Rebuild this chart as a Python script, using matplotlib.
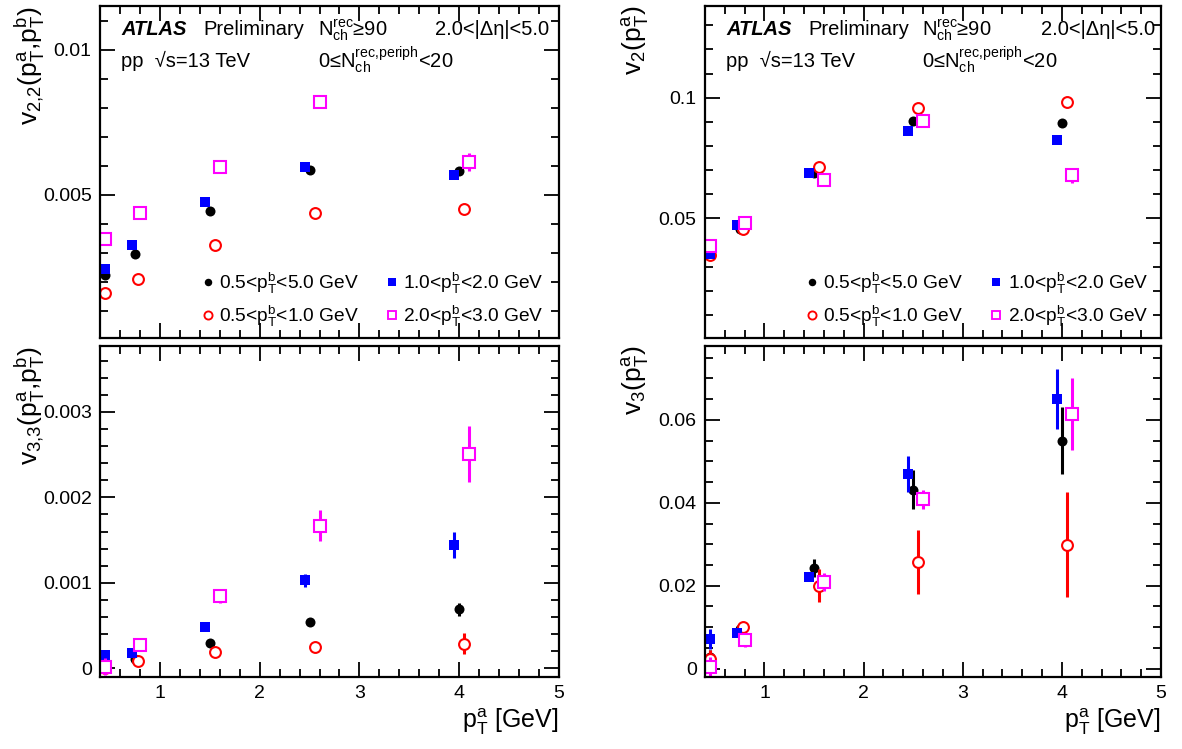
import matplotlib
matplotlib.use('Agg')
import matplotlib.pyplot as plt
from matplotlib.lines import Line2D
from matplotlib.ticker import MultipleLocator, FuncFormatter

plt.rcParams['font.family'] = 'Liberation Sans'
plt.rcParams['mathtext.fontset'] = 'custom'
plt.rcParams['mathtext.rm'] = 'Liberation Sans'
plt.rcParams['mathtext.it'] = 'Liberation Sans:italic'
plt.rcParams['mathtext.bf'] = 'Liberation Sans:bold'
plt.rcParams['mathtext.default'] = 'regular'

# pT^a positions of each pT^b selection (shifted slightly so the points don't overlap)
pta_black = [0.45, 0.75, 1.50, 2.50, 4.00]
pta_red = [0.45, 0.78, 1.55, 2.55, 4.05]
pta_blue = [0.45, 0.72, 1.45, 2.45, 3.95]
pta_magenta = [0.45, 0.80, 1.60, 2.60, 4.10]

# v2,2(pTa, pTb)
v22_black = [0.00225, 0.00297, 0.00445, 0.00585, 0.00581]
v22_black_err = [0.00003, 0.00003, 0.00004, 0.00005, 0.00008]
v22_red = [0.00162, 0.00211, 0.00327, 0.00437, 0.00451]
v22_red_err = [0.00003, 0.00003, 0.00004, 0.00006, 0.00010]
v22_blue = [0.00245, 0.00327, 0.00476, 0.00597, 0.00569]
v22_blue_err = [0.00003, 0.00003, 0.00004, 0.00006, 0.00010]
v22_magenta = [0.00350, 0.00437, 0.00597, 0.00819, 0.00614]
v22_magenta_err = [0.00004, 0.00005, 0.00006, 0.00010, 0.00030]

# v3,3(pTa, pTb)
v33_black = [0.00002, 0.00011, 0.00030, 0.00054, 0.00069]
v33_black_err = [0.00003, 0.00002, 0.00002, 0.00003, 0.00008]
v33_red = [0.00001, 0.00009, 0.00019, 0.00025, 0.00029]
v33_red_err = [0.00003, 0.00002, 0.00003, 0.00004, 0.00012]
v33_blue = [0.000156, 0.000183, 0.00049, 0.00103, 0.00144]
v33_blue_err = [0.00003, 0.00002, 0.00003, 0.00008, 0.00015]
v33_magenta = [0.00002, 0.00027, 0.00085, 0.00167, 0.00251]
v33_magenta_err = [0.00010, 0.00004, 0.00008, 0.00018, 0.00033]

# v2(pTa)
v2_black = [0.0354, 0.0457, 0.0687, 0.0904, 0.0897]
v2_black_err = [0.0003, 0.0003, 0.0004, 0.0007, 0.0010]
v2_red = [0.0350, 0.0455, 0.0715, 0.0956, 0.0982]
v2_red_err = [0.0004, 0.0004, 0.0006, 0.0010, 0.0020]
v2_blue = [0.0351, 0.0475, 0.0690, 0.0864, 0.0824]
v2_blue_err = [0.0003, 0.0003, 0.0004, 0.0007, 0.0012]
v2_magenta = [0.0388, 0.0482, 0.0661, 0.0904, 0.0679]
v2_magenta_err = [0.0005, 0.0005, 0.0006, 0.0010, 0.0030]

# v3(pTa)
v3_black = [0.0029, 0.0095, 0.0243, 0.0431, 0.0550]
v3_black_err = [0.0015, 0.0010, 0.0022, 0.0047, 0.0080]
v3_red = [0.0024, 0.0101, 0.0200, 0.0257, 0.0299]
v3_red_err = [0.0020, 0.0010, 0.0040, 0.0078, 0.0127]
v3_blue = [0.0071, 0.0087, 0.0221, 0.0469, 0.0650]
v3_blue_err = [0.0024, 0.0010, 0.0010, 0.0043, 0.0072]
v3_magenta = [0.0004, 0.0068, 0.0209, 0.0409, 0.0614]
v3_magenta_err = [0.0025, 0.0015, 0.0022, 0.0023, 0.0087]

labels_b = [r'0.5<$p^{b}_{T}$<5.0 GeV', r'0.5<$p^{b}_{T}$<1.0 GeV',
            r'1.0<$p^{b}_{T}$<2.0 GeV', r'2.0<$p^{b}_{T}$<3.0 GeV']

styles = [
    dict(color='black', marker='o', ms=7.2, mfc='black', mew=0),
    dict(color='red', marker='o', ms=7.8, mfc='white', mew=1.5),
    dict(color='blue', marker='s', ms=6.8, mfc='blue', mew=0),
    dict(color='magenta', marker='s', ms=8.0, mfc='white', mew=1.5),
]
positions = [pta_black, pta_red, pta_blue, pta_magenta]

panels = [
    ([v22_black, v22_red, v22_blue, v22_magenta],
     [v22_black_err, v22_red_err, v22_blue_err, v22_magenta_err],
     r'$v_{2{,}2}(p^{a}_{T}{,}p^{b}_{T})$', (0.00008, 0.0115), 0.005, 0.001),
    ([v2_black, v2_red, v2_blue, v2_magenta],
     [v2_black_err, v2_red_err, v2_blue_err, v2_magenta_err],
     r'$v_{2}(p^{a}_{T})$', (0.0005, 0.138), 0.05, 0.01),
    ([v33_black, v33_red, v33_blue, v33_magenta],
     [v33_black_err, v33_red_err, v33_blue_err, v33_magenta_err],
     r'$v_{3{,}3}(p^{a}_{T}{,}p^{b}_{T})$', (-0.0001, 0.00377), 0.001, 0.0002),
    ([v3_black, v3_red, v3_blue, v3_magenta],
     [v3_black_err, v3_red_err, v3_blue_err, v3_magenta_err],
     r'$v_{3}(p^{a}_{T})$', (-0.002, 0.0778), 0.02, 0.005),
]

fig = plt.figure(figsize=(11.82, 7.49), dpi=100)
W, H = 1182.0, 749.0
boxes = [(100, 6, 459, 332), (705, 6, 456, 332),
         (100, 346, 459, 331), (705, 346, 456, 331)]

for i, (vals, errs, ylab, ylim, major, minor) in enumerate(panels):
    x0, y0, w, h = boxes[i]
    ax = fig.add_axes([x0 / W, 1 - (y0 + h) / H, w / W, h / H])
    for xs, ys, es, st in zip(positions, vals, errs, styles):
        ax.errorbar(xs, ys, yerr=es, fmt='none', ecolor=st['color'], elinewidth=2.2, capsize=0)
        ax.plot(xs, ys, linestyle='none', marker=st['marker'], ms=st['ms'],
                mfc=st['mfc'], mec=st['color'], mew=st['mew'])
    ax.set_xlim(0.4, 5.0)
    ax.set_ylim(*ylim)
    ax.xaxis.set_major_locator(MultipleLocator(1))
    ax.xaxis.set_minor_locator(MultipleLocator(0.2))
    ax.yaxis.set_major_locator(MultipleLocator(major))
    ax.yaxis.set_minor_locator(MultipleLocator(minor))
    ax.yaxis.set_major_formatter(FuncFormatter(lambda v, p: '%g' % round(v, 6)))
    ax.tick_params(which='both', direction='in', top=True, right=True, width=1.3, labelsize=14)
    ax.tick_params(which='major', length=11, pad=6)
    ax.tick_params(which='minor', length=6)
    for s in ax.spines.values():
        s.set_linewidth(1.6)
    ax.text(-0.153, 1.0, ylab, transform=ax.transAxes, rotation=90,
            ha='center', va='top', fontsize=19)

    if i < 2:
        ax.tick_params(labelbottom=False)
        # header text
        ax.text(0.046, 0.928, 'ATLAS', transform=ax.transAxes, fontsize=14.5,
                fontweight='bold', fontstyle='italic', va='center')
        ax.text(0.226, 0.928, 'Preliminary', transform=ax.transAxes, fontsize=14.5, va='center')
        ax.text(0.475, 0.928, r'$N^{rec}_{ch}$≥90', transform=ax.transAxes, fontsize=14.5, va='center')
        ax.text(0.978 if i == 0 else 0.987, 0.928, '2.0<|Δη|<5.0', transform=ax.transAxes,
                fontsize=14.5, va='center', ha='right')
        ax.text(0.046, 0.835, 'pp  √s=13 TeV', transform=ax.transAxes, fontsize=14.5, va='center')
        ax.text(0.475, 0.835, r'0≤$N^{rec{,}periph}_{ch}$<20', transform=ax.transAxes,
                fontsize=14.5, va='center')
        handles = [Line2D([], [], linestyle='none', marker=st['marker'], ms=st['ms'] * 0.75,
                          mfc=st['mfc'], mec=st['color'], mew=st['mew'] * 0.9) for st in styles]
        ax.legend(handles, labels_b, ncol=2, loc='lower left', bbox_to_anchor=(0.205, 0.005),
                  frameon=False, fontsize=13.8, handlelength=0.6, handletextpad=0.3,
                  columnspacing=1.4, labelspacing=0.4, borderaxespad=0.0)
    else:
        ax.text(1.0, -0.135, r'$p^{a}_{T}$ [GeV]', transform=ax.transAxes,
                ha='right', va='center', fontsize=18)

plt.savefig('out.png', dpi=100)
